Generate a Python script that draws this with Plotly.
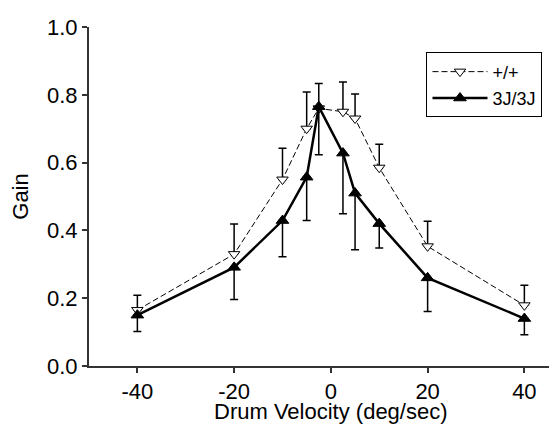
import plotly.graph_objects as go

# Data
velocity = [-40, -20, -10, -5, -2.5, 2.5, 5, 10, 20, 40]

wt_gain = [0.165, 0.33, 0.55, 0.70, 0.76, 0.75, 0.73, 0.585, 0.353, 0.179]
wt_err_up = [0.044, 0.089, 0.092, 0.108, 0.073, 0.088, 0.072, 0.069, 0.074, 0.059]

mut_gain = [0.150, 0.291, 0.429, 0.557, 0.765, 0.628, 0.510, 0.420, 0.260, 0.140]
mut_err_down = [0.048, 0.095, 0.107, 0.128, 0.142, 0.179, 0.167, 0.072, 0.099, 0.048]

x_tickvals = [-40, -20, 0, 20, 40]
x_ticktext = ["-40", "-20", "0", "20", "40"]
y_tickvals = [0.0, 0.2, 0.4, 0.6, 0.8, 1.0]
y_ticktext = ["0.0", "0.2", "0.4", "0.6", "0.8", "1.0"]

series_names = ["+/+", "3J/3J"]
x_title = "Drum Velocity (deg/sec)"
y_title = "Gain"

FONT = "Liberation Sans, Arial, sans-serif"

fig = go.Figure()

fig.add_trace(go.Scatter(
    x=velocity, y=wt_gain, name=series_names[0], mode="lines+markers",
    line=dict(color="black", width=1, dash="6px,3px"),
    marker=dict(symbol="triangle-down", size=10, color="white",
                line=dict(color="black", width=1)),
    error_y=dict(type="data", symmetric=False, array=wt_err_up,
                 arrayminus=[0] * len(wt_err_up), color="black",
                 thickness=1.5, width=4),
))

fig.add_trace(go.Scatter(
    x=velocity, y=mut_gain, name=series_names[1], mode="lines+markers",
    line=dict(color="black", width=2.5),
    marker=dict(symbol="triangle-up", size=11, color="black",
                line=dict(color="black", width=1)),
    error_y=dict(type="data", symmetric=False, array=[0] * len(mut_err_down),
                 arrayminus=mut_err_down, color="black",
                 thickness=1.5, width=4),
))

fig.add_annotation(
    text=x_title, xref="x", x=0, yref="paper", y=0,
    xanchor="center", yanchor="top", yshift=-31, showarrow=False,
    font=dict(family=FONT, size=22, color="black"),
)

fig.update_layout(
    width=557, height=424,
    margin=dict(l=81, r=0, t=19, b=66, autoexpand=False),
    paper_bgcolor="white", plot_bgcolor="white",
    font=dict(family=FONT, size=22, color="black"),
    showlegend=True,
    legend=dict(x=0.709, y=0.925, xanchor="left", yanchor="top",
                bordercolor="black", borderwidth=1, bgcolor="white",
                font=dict(family=FONT, size=18, color="black"),
                itemwidth=55, tracegroupgap=0),
    xaxis=dict(
        range=[-50, 48.4], showgrid=False, zeroline=False, automargin=False,
        showline=True, linecolor="#333", linewidth=2,
        ticks="outside", ticklen=5, tickwidth=1.5, tickcolor="#333",
        tickvals=x_tickvals, ticktext=x_ticktext,
    ),
    yaxis=dict(
        range=[0, 1.0], showgrid=False, zeroline=False, automargin=False,
        showline=True, linecolor="#333", linewidth=2,
        ticks="outside", ticklen=5, tickwidth=1.5, tickcolor="#333",
        tickvals=y_tickvals, ticktext=y_ticktext,
        title=dict(text=y_title, font=dict(size=22)),
    ),
)

fig.write_html("out.html")
